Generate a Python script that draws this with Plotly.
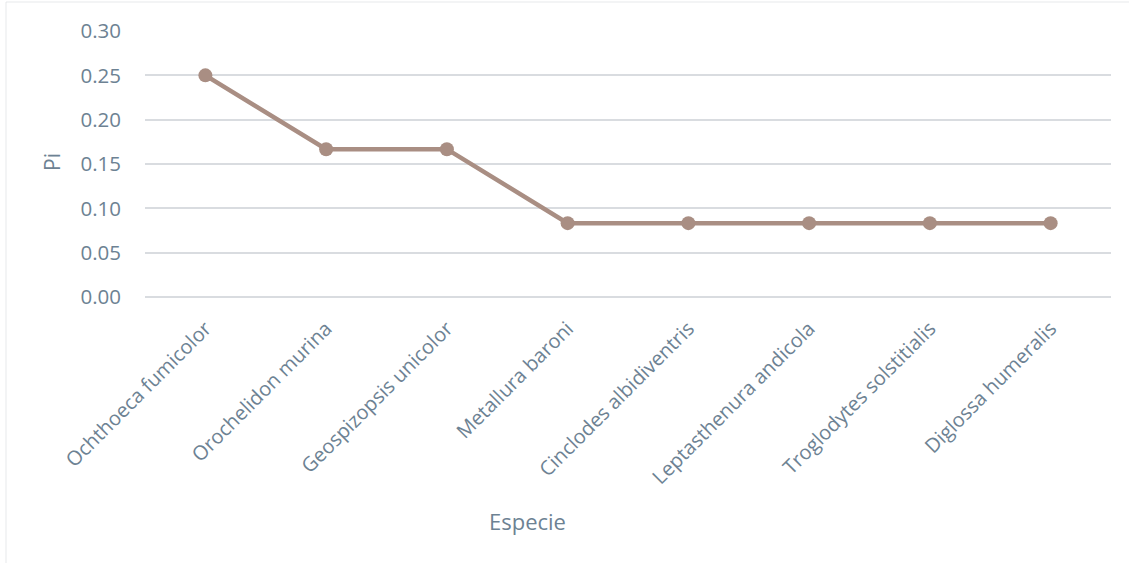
import plotly.graph_objects as go

especies = ['Ochthoeca fumicolor', 'Orochelidon murina', 'Geospizopsis unicolor',
            'Metallura baroni', 'Cinclodes albidiventris', 'Leptasthenura andicola',
            'Troglodytes solstitialis', 'Diglossa humeralis']
pi_vals = [0.25, 0.1667, 0.1667, 0.0833, 0.0833, 0.0833, 0.0833, 0.0833]
y_ticks = [0.0, 0.05, 0.10, 0.15, 0.20, 0.25, 0.30]

txt = '#6D8293'
grid = '#D9DCE0'

# area de trazado en pixeles (pagina)
L, R, T, B = 145, 1111, 31, 297
W, H = R - L, B - T

fig = go.Figure()
fig.add_trace(go.Scatter(x=especies, y=pi_vals, mode='lines+markers',
                         line=dict(color='#A98E83', width=4.5),
                         marker=dict(color='#A98E83', size=14)))

fig.update_layout(width=1129, height=565, template='simple_white', showlegend=False,
                  paper_bgcolor='white', plot_bgcolor='white',
                  font=dict(family='Open Sans', color=txt, size=20),
                  margin=dict(l=L, r=1129 - R, t=T, b=565 - B))

fig.update_xaxes(type='category', range=[-0.5, 7.5], tickangle=-45, showline=False,
                 ticks='', ticklabelstandoff=15, tickfont=dict(size=20, color=txt))
fig.update_yaxes(range=[0, 0.30], tickvals=y_ticks, tickformat='.2f', showline=False,
                 ticks='', showgrid=True, gridcolor=grid, gridwidth=1.5,
                 zeroline=True, zerolinecolor=grid, zerolinewidth=1.5,
                 ticklabelstandoff=23, tickfont=dict(size=20.5, color=txt))

# titulos de ejes
fig.add_annotation(text='Especie', xref='paper', yref='paper', x=(527 - L) / W, y=(B - 521) / H,
                   xanchor='center', yanchor='middle',
                   showarrow=False, font=dict(size=22, color=txt))
fig.add_annotation(text='Pi', xref='paper', yref='paper', x=(52 - L) / W, y=(B - 162) / H,
                   xanchor='center', yanchor='middle',
                   showarrow=False, textangle=-90, font=dict(size=21, color=txt))

# marco de la figura (izquierda y arriba)
fig.add_shape(type='line', xref='paper', yref='paper',
              x0=(6 - L) / W, x1=(6 - L) / W, y0=(B - 563) / H, y1=(B - 2) / H,
              line=dict(color=grid, width=2))
fig.add_shape(type='line', xref='paper', yref='paper',
              x0=(6 - L) / W, x1=(1129 - L) / W, y0=(B - 2) / H, y1=(B - 2) / H,
              line=dict(color=grid, width=2))

fig.write_html("out.html", config={'displayModeBar': False},
               post_script="document.body.style.margin='0';")
